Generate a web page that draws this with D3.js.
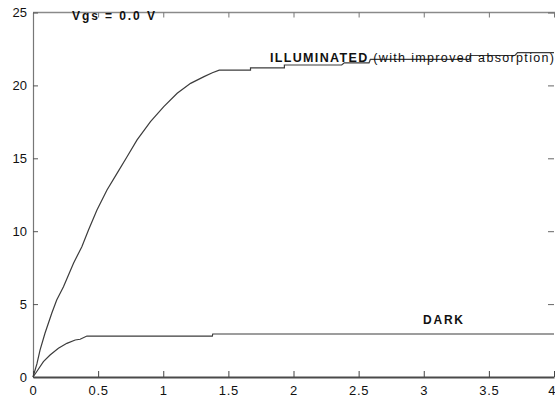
<!DOCTYPE html>
<html>
<head>
<meta charset="utf-8">
<script src="https://cdn.jsdelivr.net/npm/d3@7"></script>
<style>
  html, body { margin: 0; padding: 0; background: #fff; }
  svg { display: block; }
  text { font-family: "Liberation Sans", Arial, Helvetica, sans-serif; }
</style>
</head>
<body>
<svg id="chart" width="555" height="398"></svg>
<script>
// Drain current vs. drain voltage, Vgs = 0.0 V
const illumX = [0, 0.03, 0.054, 0.092, 0.144, 0.182, 0.234, 0.311, 0.375, 0.426, 0.491, 0.568, 0.645, 0.722, 0.799, 0.902, 1.004, 1.107, 1.21, 1.313, 1.377, 1.43, 1.67, 1.67, 1.93, 1.93, 2.37, 2.39, 2.58, 2.59, 3.35, 3.36, 3.70, 3.72, 4.0];
const illumY = [0, 0.9, 1.85, 3.0, 4.37, 5.28, 6.19, 7.8, 8.94, 10.08, 11.45, 12.83, 13.97, 15.11, 16.26, 17.51, 18.54, 19.46, 20.14, 20.6, 20.87, 21.05, 21.05, 21.2, 21.2, 21.4, 21.4, 21.55, 21.55, 21.78, 21.78, 22.05, 22.05, 22.25, 22.25];

const darkX = [0, 0.028, 0.08, 0.131, 0.195, 0.26, 0.324, 0.362, 0.414, 1.377, 1.38, 4.0];
const darkY = [0, 0.36, 1.05, 1.51, 1.97, 2.31, 2.54, 2.59, 2.81, 2.81, 2.95, 2.95];

const xTicks = [0, 0.5, 1, 1.5, 2, 2.5, 3, 3.5, 4];
const xTickLabels = ["0", "0.5", "1", "1.5", "2", "2.5", "3", "3.5", "4"];
const yTicks = [0, 5, 10, 15, 20, 25];
const yTickLabels = ["0", "5", "10", "15", "20", "25"];

const svg = d3.select("#chart");

const x = d3.scaleLinear().domain([0, 4]).range([33, 554]);
const y = d3.scaleLinear().domain([0, 25]).range([377, 12.5]);

// frame: top border
svg.append("line")
  .attr("x1", x(0)).attr("x2", 555)
  .attr("y1", y(25)).attr("y2", y(25))
  .attr("stroke", "#8a8a8a").attr("stroke-width", 1.5);

// top ticks (inward, no labels)
const topAxis = svg.append("g").attr("transform", `translate(0,${y(25)})`)
  .call(d3.axisTop(x).tickValues(xTicks).tickSizeInner(-5).tickSizeOuter(0).tickFormat(""));
topAxis.select(".domain").remove();
topAxis.selectAll("line").attr("stroke", "#777");

// right ticks (inward, no labels)
const rightAxis = svg.append("g").attr("transform", `translate(${x(4)},0)`)
  .call(d3.axisRight(y).tickValues(yTicks).tickSizeInner(-6).tickSizeOuter(0).tickFormat(""));
rightAxis.select(".domain").remove();
rightAxis.selectAll("line").attr("stroke", "#666");

// left axis
const leftAxis = svg.append("g").attr("transform", `translate(${x(0)},0)`)
  .call(d3.axisLeft(y).tickValues(yTicks).tickSizeInner(-5).tickSizeOuter(0).tickPadding(6)
    .tickFormat((d, i) => yTickLabels[i]));
leftAxis.select(".domain").attr("stroke", "#777").attr("stroke-width", 1.2);
leftAxis.selectAll("line").attr("stroke", "#555");
leftAxis.selectAll("text").attr("font-size", 13).attr("fill", "#111")
  .attr("font-family", "'Liberation Sans', Arial, sans-serif");

// bottom axis
const bottomAxis = svg.append("g").attr("transform", `translate(0,${y(0)})`)
  .call(d3.axisBottom(x).tickValues(xTicks).tickSizeInner(-6).tickSizeOuter(0).tickPadding(9)
    .tickFormat((d, i) => xTickLabels[i]));
bottomAxis.select(".domain").attr("stroke", "#4a4a4a").attr("stroke-width", 2);
bottomAxis.selectAll("line").attr("stroke", "#444");
bottomAxis.selectAll("text").attr("font-size", 13).attr("fill", "#111")
  .attr("letter-spacing", "0.8px")
  .attr("font-family", "'Liberation Sans', Arial, sans-serif");
// last label sits against the right edge of the page
bottomAxis.selectAll(".tick").filter(d => d === 4).select("text")
  .attr("text-anchor", "end").attr("letter-spacing", null).attr("x", 1);

// curves
const line = d3.line().x(d => x(d[0])).y(d => y(d[1]));
const illum = illumX.map((v, i) => [v, illumY[i]]);
const dark = darkX.map((v, i) => [v, darkY[i]]);

svg.append("path").datum(dark)
  .attr("d", line).attr("fill", "none")
  .attr("stroke", "#3c3c3c").attr("stroke-width", 1.2);

svg.append("path").datum(illum)
  .attr("d", line).attr("fill", "none")
  .attr("stroke", "#3c3c3c").attr("stroke-width", 1.2);

// annotations
svg.append("text")
  .attr("x", 72).attr("y", 19.5)
  .attr("font-size", 12).attr("font-weight", "bold").attr("fill", "#111")
  .attr("textLength", 83).attr("lengthAdjust", "spacing")
  .text("Vgs =  0.0 V");

const lab = svg.append("text")
  .attr("x", 270).attr("y", 62)
  .attr("font-size", 12.5).attr("fill", "#111")
  .attr("textLength", 284).attr("lengthAdjust", "spacing");
lab.append("tspan").attr("font-weight", "bold").text("ILLUMINATED");
lab.append("tspan").text(" (with improved absorption)");

svg.append("text")
  .attr("x", 423).attr("y", 323.5)
  .attr("font-size", 12).attr("font-weight", "bold").attr("fill", "#111")
  .attr("textLength", 40).attr("lengthAdjust", "spacing")
  .text("DARK");
</script>
</body>
</html>
